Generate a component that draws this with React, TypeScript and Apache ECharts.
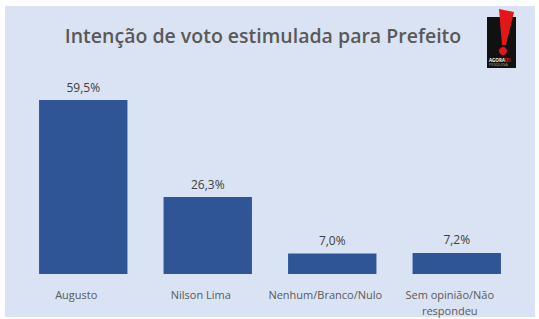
import React, { useEffect, useRef } from "react";
import * as echarts from "echarts";

const categories = ["Augusto", "Nilson Lima", "Nenhum/Branco/Nulo", "Sem opinião/Não\nrespondeu"];
const values = [59.5, 26.3, 7.0, 7.2];
const titleText = "Intenção de voto estimulada para Prefeito";

export default function App() {
  const ref = useRef<HTMLDivElement>(null);
  useEffect(() => {
    const chart = echarts.init(ref.current!, null, { renderer: "svg" });
    chart.setOption({
      animation: false,
      backgroundColor: "#ffffff",
      title: {
        text: titleText,
        left: 258,
        textAlign: "center",
        top: 20,
        textStyle: { fontFamily: "Open Sans", fontSize: 19.5, fontWeight: 600, color: "#595959" },
      },
      graphic: [
        { type: "rect", z: -10, shape: { x: 5, y: 6, width: 530, height: 311 }, style: { fill: "#dae3f3" } },
        { type: "rect", z: 10, shape: { x: 487, y: 17, width: 29, height: 51 }, style: { fill: "#111111" } },
        { type: "polygon", z: 11, shape: { points: [[499, 9], [514, 12], [506, 45], [502, 45]] }, style: { fill: "#e3161c" } },
        { type: "circle", z: 11, shape: { cx: 503, cy: 51, r: 4 }, style: { fill: "#e3161c" } },
        { type: "text", z: 11, x: 489, y: 57, style: { text: "AGORA", fontSize: 4.5, fontWeight: "bold", fill: "#ffffff", fontFamily: "Open Sans" } },
        { type: "text", z: 11, x: 504, y: 57, style: { text: "SEI", fontSize: 4.5, fontWeight: "bold", fill: "#e3161c", fontFamily: "Open Sans" } },
        { type: "text", z: 11, x: 489, y: 62.5, style: { text: "PESQUISA", fontSize: 4, fill: "#aaaaaa", fontFamily: "Open Sans" } },
      ],
      grid: { left: 21, right: 20, top: 100, bottom: 45, containLabel: false },
      xAxis: {
        type: "category",
        data: categories,
        axisLine: { show: false },
        axisTick: { show: false },
        axisLabel: {
          fontFamily: "Open Sans",
          fontSize: 11,
          color: "#595959",
          margin: 12,
          lineHeight: 16,
          interval: 0,
          padding: [0, 14, 0, 0],
        },
      },
      yAxis: { type: "value", min: 0, max: 59.5, show: false, splitLine: { show: false } },
      series: [
        {
          type: "bar",
          data: values,
          barWidth: "71%",
          itemStyle: { color: "#2f5597" },
          label: {
            show: true,
            position: "top",
            distance: 7,
            formatter: (p: any) => p.value.toFixed(1).replace(".", ",") + "%",
            fontFamily: "Open Sans",
            fontSize: 12,
            color: "#404040",
          },
        },
      ],
    });
    return () => chart.dispose();
  }, []);
  return <div ref={ref} style={{ position: "fixed", left: 0, top: 0, width: 539, height: 319 }} />;
}
